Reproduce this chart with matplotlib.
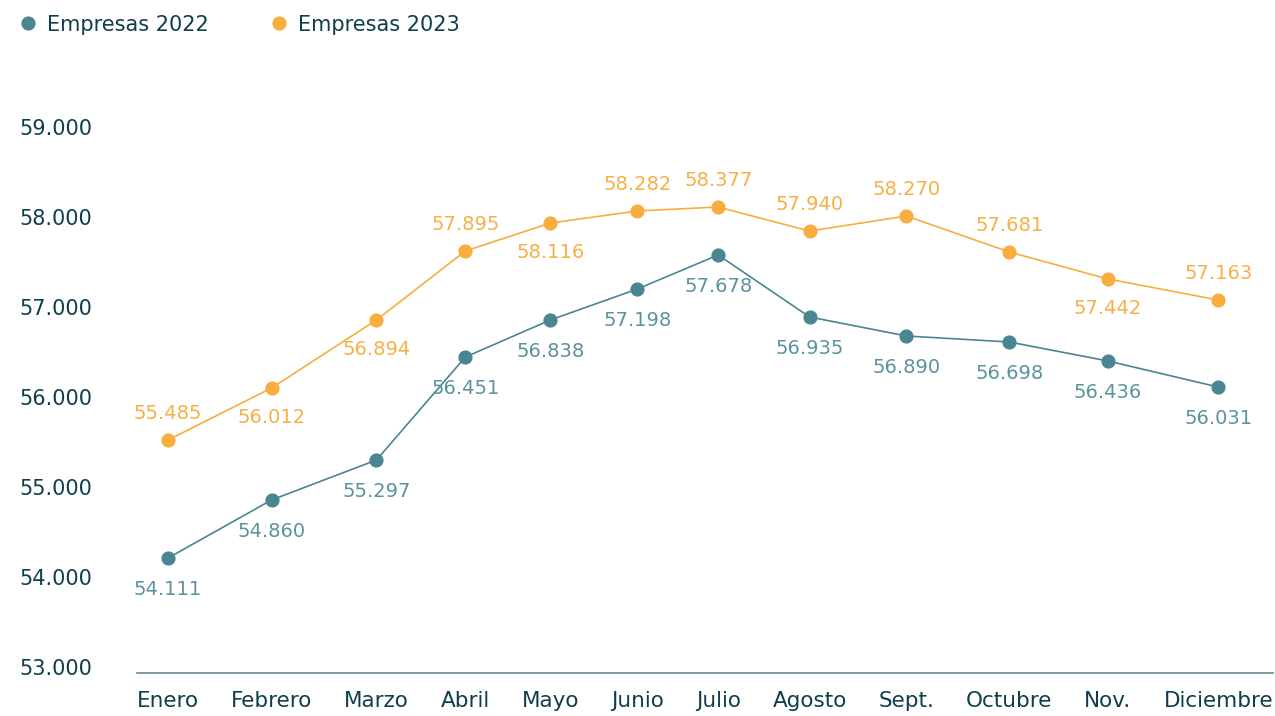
"""Empresas 2022 vs 2023 — líneas con etiquetas de datos"""

import matplotlib
matplotlib.use("Agg")
matplotlib.rcParams["font.family"] = ["DejaVu Sans"]

import matplotlib.pyplot as plt
import matplotlib.ticker as mticker
from matplotlib.lines import Line2D

# datos
MESES = ["Enero", "Febrero", "Marzo", "Abril", "Mayo", "Junio", "Julio",
         "Agosto", "Sept.", "Octubre", "Nov.", "Diciembre"]
EMPRESAS_2022 = [54211, 54856, 55300, 56444, 56856, 57200, 57578,
                 56889, 56678, 56611, 56400, 56111]
EMPRESAS_2023 = [55522, 56100, 56856, 57622, 57933, 58067, 58111,
                 57844, 58011, 57611, 57311, 57078]
ETIQUETAS_2022 = ["54.111", "54.860", "55.297", "56.451", "56.838", "57.198",
                  "57.678", "56.935", "56.890", "56.698", "56.436", "56.031"]
ETIQUETAS_2023 = ["55.485", "56.012", "56.894", "57.895", "58.116", "58.282",
                  "58.377", "57.940", "58.270", "57.681", "57.442", "57.163"]
Y_TICKS = [53000, 54000, 55000, 56000, 57000, 58000, 59000]

# estilo
TEAL = "#4a8691"
TEAL_TXT = "#5b939c"
NARANJA = "#f8ad3e"
NARANJA_TXT = "#f7b046"
TEXTO = "#0e3f4a"
EJE = "#5f8a93"
# 1 = etiqueta encima, -1 = debajo
POS_2023 = [1, -1, -1, 1, -1, 1, 1, 1, 1, 1, -1, 1]
FS_X = 15.5

W, H = 1275, 716
fig = plt.figure(figsize=(W / 100, H / 100), dpi=100)
ax_left, ax_right = 137, 1273
ax_top, ax_bottom = 60, 673
ax = fig.add_axes([ax_left / W, 1 - ax_bottom / H,
                   (ax_right - ax_left) / W, (ax_bottom - ax_top) / H])
ylo = 53000 - (ax_bottom - 667) / 90 * 1000
yhi = 59000 + (127 - ax_top) / 90 * 1000
ax.set_ylim(ylo, yhi)
ax.set_xlim(0, 1)

# posiciones x: etiquetas del eje repartidas con el mismo hueco entre ellas
renderer = fig.canvas.get_renderer()
anchos = []
for m in MESES:
    t = fig.text(0, 0, m, fontsize=FS_X)
    anchos.append(t.get_window_extent(renderer).width)
    t.remove()
span = ax_right - ax_left
gap = (span - sum(anchos)) / (len(MESES) - 1)
xs, cur = [], 0.0
for w in anchos:
    xs.append((cur + w / 2) / span)
    cur += w + gap

ax.plot(xs, EMPRESAS_2022, color=TEAL, linewidth=1.2, marker="o", markersize=9.2,
        zorder=3)
ax.plot(xs, EMPRESAS_2023, color=NARANJA, linewidth=1.2, marker="o", markersize=9.2,
        zorder=3)

for x, y, txt in zip(xs, EMPRESAS_2022, ETIQUETAS_2022):
    ax.annotate(txt, (x, y), textcoords="offset points", xytext=(0, -23),
                ha="center", va="center", fontsize=14, color=TEAL_TXT)
for x, y, txt, p in zip(xs, EMPRESAS_2023, ETIQUETAS_2023, POS_2023):
    dy = 19 if p > 0 else -21
    ax.annotate(txt, (x, y), textcoords="offset points", xytext=(0, dy),
                ha="center", va="center", fontsize=14, color=NARANJA_TXT)

ax.set_xticks(xs)
ax.set_xticklabels(MESES)
ax.set_yticks(Y_TICKS)
ax.yaxis.set_major_formatter(
    mticker.FuncFormatter(lambda v, _: f"{v:,.0f}".replace(",", ".")))
ax.tick_params(axis="both", length=0, labelcolor=TEXTO)
ax.tick_params(axis="x", pad=13, labelsize=FS_X)
ax.tick_params(axis="y", pad=32, labelsize=15)
for s in ("top", "right", "left"):
    ax.spines[s].set_visible(False)
ax.spines["bottom"].set_color(EJE)
ax.spines["bottom"].set_linewidth(1.2)

handles = [Line2D([], [], color=TEAL, marker="o", linestyle="none", markersize=9.2),
           Line2D([], [], color=NARANJA, marker="o", linestyle="none", markersize=9.2)]
leg = fig.legend(handles, ["Empresas 2022", "Empresas 2023"], loc="upper left",
                 bbox_to_anchor=(0.004, 1.0), ncol=2, frameon=False, fontsize=15,
                 handlelength=0.8, handletextpad=0.5, columnspacing=3.0,
                 borderaxespad=0.3)
for t in leg.get_texts():
    t.set_color(TEXTO)

fig.savefig("out.png", dpi=100)
